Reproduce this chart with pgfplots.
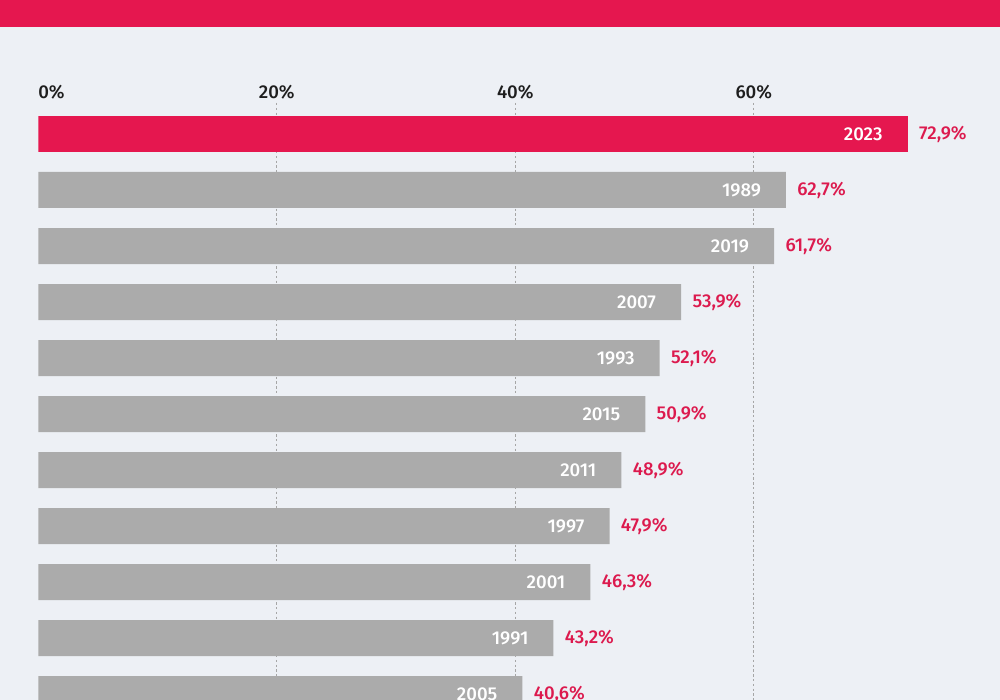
\documentclass[border=0pt]{standalone}
\usepackage{fontspec}
\setmainfont{Fira Sans}
\newfontfamily\medfont{Fira Sans Medium}
\usepackage{pgfplots}
\pgfplotsset{compat=1.18}
\usepackage{pgfplotstable}

\definecolor{band}{HTML}{E5174F}
\definecolor{barGray}{HTML}{ABABAB}
\definecolor{bg}{HTML}{EDF0F5}
\definecolor{valRed}{HTML}{DC1A4E}
\definecolor{tickDark}{HTML}{1E1E1E}

% highlighted year
\pgfplotstableread{
pos val  year
0   72.9 2023
}\highlight

% remaining years, top to bottom
\pgfplotstableread{
pos val  year
1   62.7 1989
2   61.7 2019
3   53.9 2007
4   52.1 1993
5   50.9 2015
6   48.9 2011
7   47.9 1997
8   46.3 2001
9   43.2 1991
10  40.6 2005
}\others

\newcommand\lblfont{\medfont\fontsize{9.3}{11}\selectfont}

\begin{document}
\begin{tikzpicture}
\fill[bg] (0pt,0pt) rectangle (500pt,350pt);
\fill[band] (0pt,336.6pt) rectangle (500pt,350pt);
\useasboundingbox (0pt,0pt) rectangle (500pt,350pt);
\begin{axis}[
  at={(19.15pt,0pt)}, anchor=south west,
  scale only axis, width=477pt, height=298.5pt,
  xmin=0, xmax=80, ymin=-0.5536, ymax=10.107, y dir=reverse,
  axis line style={draw=none}, major tick length=0pt,
  ytick=\empty,
  xtick={20,40,60}, xticklabels={20\%,40\%,60\%},
  extra x ticks={0}, extra x tick labels={\makebox[0pt][l]{0\%}},
  extra x tick style={grid=none},
  xticklabel pos=upper,
  xmajorgrids, grid style={dash pattern=on 1.2pt off 1.2pt, black!35, line width=0.5pt},
  xticklabel style={font=\lblfont, text=tickDark, anchor=base, yshift=2pt},
  /pgf/number format/assume math mode=true,
  bar width=18pt,
]
% bars with the year written inside
\addplot[xbar, bar shift=0pt, fill=barGray, draw=none,
  point meta=explicit symbolic, nodes near coords,
  every node near coord/.append style={anchor=east, xshift=-9pt, text=white, font=\lblfont}]
  table[x=val, y=pos, meta=year] {\others};
\addplot[xbar, bar shift=0pt, fill=band, draw=none,
  point meta=explicit symbolic, nodes near coords,
  every node near coord/.append style={anchor=east, xshift=-9pt, text=white, font=\lblfont}]
  table[x=val, y=pos, meta=year] {\highlight};
% value labels after each bar
\addplot[xbar, bar shift=0pt, draw=none, fill=none,
  point meta=x,
  nodes near coords={\pgfmathprintnumber[fixed,fixed zerofill,precision=1,use comma]{\pgfplotspointmeta}\%},
  every node near coord/.append style={anchor=west, xshift=2.2pt, text=valRed, font=\lblfont}]
  table[x=val, y=pos] {\others};
\addplot[xbar, bar shift=0pt, draw=none, fill=none,
  point meta=x,
  nodes near coords={\pgfmathprintnumber[fixed,fixed zerofill,precision=1,use comma]{\pgfplotspointmeta}\%},
  every node near coord/.append style={anchor=west, xshift=2.2pt, text=valRed, font=\lblfont}]
  table[x=val, y=pos] {\highlight};
\end{axis}
\end{tikzpicture}
\end{document}
